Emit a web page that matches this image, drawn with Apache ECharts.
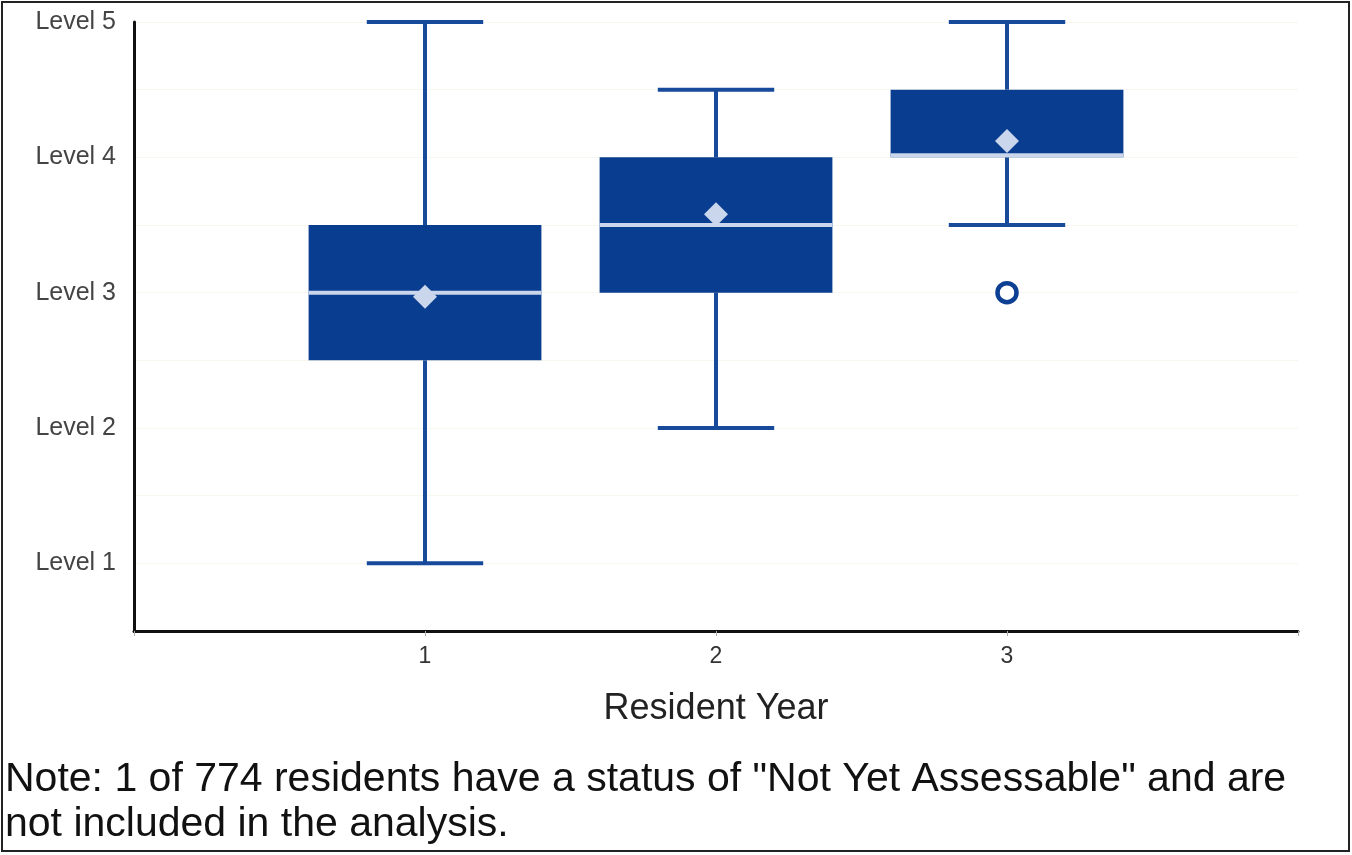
<!DOCTYPE html>
<html>
<head>
<meta charset="utf-8">
<script src="https://cdn.jsdelivr.net/npm/echarts@6/dist/echarts.min.js"></script>
<style>
html,body{margin:0;padding:0;background:#fff;}
#chart{width:1352px;height:855px;}
</style>
</head>
<body>
<div id="chart"></div>
<script>
// Data
const years = [1, 2, 3];
const lowWhisker = [1, 2, 3.5];
const q1 = [2.5, 3, 4];
const median = [3, 3.5, 4];
const q3 = [3.5, 4, 4.5];
const highWhisker = [5, 4.5, 5];
const means = [2.97, 3.58, 4.12];
const outlierYears = [3];
const outlierValues = [3];
const levelLabels = {1: 'Level 1', 2: 'Level 2', 3: 'Level 3', 4: 'Level 4', 5: 'Level 5'};
const xAxisName = 'Resident Year';
const noteText = 'Note: 1 of 774 residents have a status of "Not Yet Assessable" and are\nnot included in the analysis.';

const boxData = years.map((y, i) => [y, lowWhisker[i], q1[i], median[i], q3[i], highWhisker[i]]);
const meanData = years.map((y, i) => [y, means[i]]);
const outlierData = outlierYears.map((y, i) => [y, outlierValues[i]]);

const BOX = '#093d8f';
const WHISK = '#174a9b';
const LIGHT = '#c9d6ec';

function renderBox(params, api) {
  const x = api.value(0);
  const lo = api.value(1), a = api.value(2), m = api.value(3), b = api.value(4), hi = api.value(5);
  const bw = api.size([0.8, 0])[0];
  const cw = api.size([0.4, 0])[0];
  const pLo = api.coord([x, lo]);
  const pA = api.coord([x, a]);
  const pM = api.coord([x, m]);
  const pB = api.coord([x, b]);
  const pHi = api.coord([x, hi]);
  const cx = pA[0];
  const ls = {stroke: WHISK, lineWidth: 4};
  const my = Math.min(pM[1], pA[1] - 2);
  return {
    type: 'group',
    children: [
      {type: 'line', shape: {x1: cx, y1: pB[1], x2: cx, y2: pHi[1]}, style: ls},
      {type: 'line', shape: {x1: cx, y1: pA[1], x2: cx, y2: pLo[1]}, style: ls},
      {type: 'line', shape: {x1: cx - cw / 2, y1: pHi[1], x2: cx + cw / 2, y2: pHi[1]}, style: ls},
      {type: 'line', shape: {x1: cx - cw / 2, y1: pLo[1], x2: cx + cw / 2, y2: pLo[1]}, style: ls},
      {type: 'rect', shape: {x: cx - bw / 2, y: pB[1], width: bw, height: pA[1] - pB[1]}, style: {fill: BOX}},
      {type: 'line', shape: {x1: cx - bw / 2, y1: my, x2: cx + bw / 2, y2: my}, style: {stroke: LIGHT, lineWidth: 4}}
    ]
  };
}

const chart = echarts.init(document.getElementById('chart'));
chart.setOption({
  animation: false,
  backgroundColor: '#fff',
  grid: {left: 134, right: 54, top: 22, bottom: 224, containLabel: false},
  xAxis: {
    type: 'value', min: 0, max: 4, interval: 1,
    name: xAxisName, nameLocation: 'middle', nameGap: 60,
    nameTextStyle: {fontFamily: 'Liberation Sans', fontSize: 36, color: '#222'},
    axisLine: {show: true, onZero: false, lineStyle: {color: '#111', width: 3}},
    axisTick: {show: true, length: 5, lineStyle: {color: '#aaa', width: 1}},
    axisLabel: {
      fontFamily: 'Liberation Sans', fontSize: 23, color: '#333', margin: 14,
      formatter: v => (v >= 1 && v <= 3 ? String(v) : '')
    },
    splitLine: {show: false}
  },
  yAxis: {
    type: 'value', min: 0.5, max: 5, interval: 0.5,
    axisLine: {show: true, onZero: false, lineStyle: {color: '#111', width: 3}},
    axisTick: {show: false},
    axisLabel: {
      fontFamily: 'Liberation Sans', fontSize: 25, color: '#444', margin: 18,
      formatter: v => levelLabels[v] || ''
    },
    splitLine: {show: true, lineStyle: {color: '#f7f7ef', width: 1}}
  },
  series: [
    {
      type: 'custom', renderItem: renderBox, data: boxData,
      encode: {x: 0, y: [1, 2, 3, 4, 5]}, z: 2
    },
    {
      type: 'scatter', data: meanData, symbol: 'diamond', symbolSize: [24, 24],
      itemStyle: {color: LIGHT, opacity: 1}, z: 5
    },
    {
      type: 'scatter', data: outlierData, symbol: 'circle', symbolSize: 19,
      itemStyle: {color: '#fff', borderColor: '#0d3f92', borderWidth: 4.5, opacity: 1}, z: 5
    }
  ],
  graphic: [
    {
      type: 'text', left: 5, top: 757,
      style: {text: noteText, font: '41px "Liberation Sans"', fill: '#111', lineHeight: 45}
    },
    {
      type: 'rect', shape: {x: 2, y: 2, width: 1347, height: 849},
      style: {fill: 'none', stroke: '#222', lineWidth: 2}, silent: true
    }
  ]
});
</script>
</body>
</html>
